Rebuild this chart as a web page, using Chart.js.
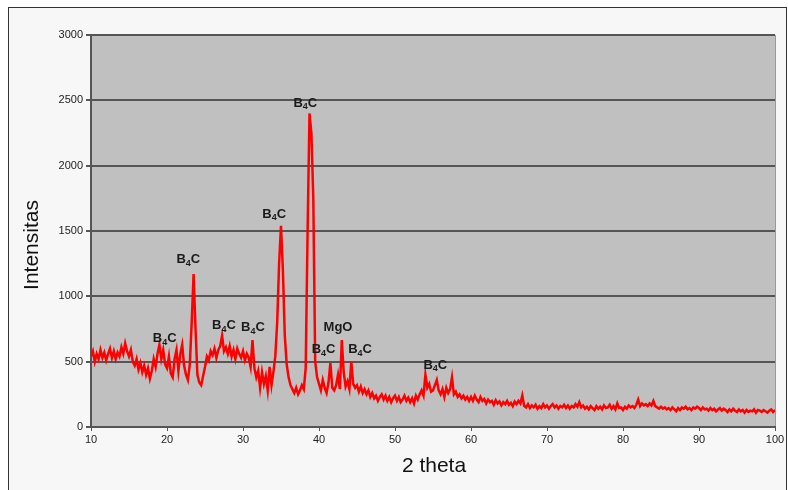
<!DOCTYPE html>
<html>
<head>
<meta charset="utf-8">
<script src="https://cdn.jsdelivr.net/npm/chart.js@4.4.0/dist/chart.umd.min.js"></script>
<style>
  html, body { margin: 0; padding: 0; background: #fff; }
  #frame { position: absolute; left: 8px; top: 7px; width: 777px; height: 500px; border: 1px solid #333; background: #f7f7f7; }
  #wrap { position: absolute; left: 0; top: 0; width: 788px; height: 490px; }
</style>
</head>
<body>
<div id="frame"></div>
<div id="wrap"><canvas id="xrd" width="788" height="490"></canvas></div>
<script>
// ===== XRD pattern (2 theta 10..100, step 0.25) =====
const ANGLE_START = 10;
const ANGLE_STEP  = 0.25;

const intensity = [
  540, 580, 500, 560,   520, 590, 530, 570,   510, 560, 600, 530,   580, 520, 570, 540,   // 10-13
  610, 560, 640, 580,   540, 590, 500, 470,   520, 440, 490, 420,   470, 400, 450, 370,   // 14-17
  430, 520, 460, 560,   630, 520, 590, 480,   450, 540, 410, 380,   520, 590, 430, 560,   // 18-21
  630, 470, 400, 360,   480, 800, 1170, 760,  400, 340, 320, 390,   460, 540, 510, 580,   // 22-25
  550, 600, 530, 590,   620, 700, 580, 610,   560, 620, 540, 590,   520, 600, 560, 530,   // 26-29
  580, 510, 560, 530,   460, 665, 450, 380,   430, 300, 420, 330,   390, 280, 460, 320,   // 30-33
  420, 540, 800, 1250,  1540, 1200, 700, 480, 380, 320, 290, 260,   300, 250, 280, 320,   // 34-37
  290, 450, 1500, 2400, 2250, 1750, 500, 380, 330, 280, 360, 300,   260, 340, 490, 300,   // 38-41
  280, 320, 400, 290,   665, 420, 310, 350,   290, 500, 330, 300,   320, 270, 310, 260,   // 42-45
  290, 250, 280, 230,   260, 220, 240, 200,   230, 250, 210, 240,   200, 230, 190, 220,   // 46-49
  240, 200, 230, 190,   210, 240, 200, 225,   190, 220, 180, 240,   210, 250, 280, 240,   // 50-53
  400, 300, 330, 270,   280, 320, 360, 280,   250, 290, 230, 300,   260, 290, 380, 250,   // 54-57
  270, 230, 250, 220,   240, 210, 230, 200,   230, 200, 240, 210,   190, 230, 200, 215,   // 58-61
  180, 210, 190, 200,   170, 205, 180, 195,   165, 190, 175, 200,   170, 185, 160, 195,   // 62-65
  175, 200, 180, 240,   160, 150, 175, 145,   165, 150, 170, 140,   160, 145, 175, 150,   // 66-69
  165, 140, 160, 175,   150, 165, 140, 160,   150, 170, 145, 165,   140, 160, 150, 175,   // 70-73
  155, 190, 150, 165,   140, 155, 135, 160,   145, 130, 160, 140,   155, 135, 165, 145,   // 74-77
  150, 170, 140, 160,   135, 180, 145, 150,   130, 155, 140, 165,   150, 160, 145, 170,   // 78-81
  210, 160, 180, 165,   175, 160, 180, 165,   200, 160, 150, 140,   155, 140, 150, 135,   // 82-85
  145, 130, 150, 135,   120, 145, 130, 150,   140, 155, 135, 145,   130, 150, 140, 155,   // 86-89
  145, 130, 150, 135,   140, 125, 145, 130,   140, 120, 135, 145,   125, 140, 130, 115,   // 90-93
  135, 120, 140, 125,   115, 135, 120, 130,   110, 130, 115, 125,   120, 135, 110, 130,   // 94-97
  125, 115, 130, 120,   110, 125, 135, 115,   130                                         // 98-100
];

// peak labels: text, anchor angle, anchor intensity
const peakNames   = ['B4C', 'B4C', 'B4C', 'B4C', 'B4C', 'B4C', 'MgO', 'B4C', 'B4C', 'B4C'];
const peakAngles  = [19.7,  22.8,  27.5,  31.3,  34.1,  38.2,  42.5,  40.6,  45.4,  55.3];
const peakHeights = [680,   1280,  780,   765,   1630,  2480,  765,   590,   590,   475];

const yTicks = [0, 500, 1000, 1500, 2000, 2500, 3000];

const TEXT  = '#222';
const GRID  = '#555';
const PLOT  = '#c0c0c0';
const LINE  = '#ff0000';
const NARROW = "'Liberation Sans Narrow', 'Arial Narrow', 'Liberation Sans', Arial, sans-serif";
const SANS   = "'Liberation Sans', Arial, sans-serif";

const points = intensity.map((v, i) => ({ x: ANGLE_START + i * ANGLE_STEP, y: v }));

const plotBg = {
  id: 'plotBg',
  beforeDraw(chart) {
    const { ctx, chartArea: a } = chart;
    ctx.save();
    ctx.fillStyle = PLOT;
    ctx.fillRect(a.left, a.top, a.right - a.left, a.bottom - a.top);
    ctx.restore();
  }
};

// axis titles drawn by hand so they sit where the original has them
const axisTitles = {
  id: 'axisTitles',
  afterDraw(chart) {
    const { ctx, chartArea: a } = chart;
    ctx.save();
    ctx.fillStyle = '#111';
    ctx.font = '21px ' + SANS;
    ctx.textAlign = 'center';
    ctx.textBaseline = 'middle';
    ctx.fillText('2 theta', (a.left + a.right) / 2 + 1, 466);
    ctx.translate(32, 245);
    ctx.rotate(-Math.PI / 2);
    ctx.fillText('Intensitas', 0, 0);
    ctx.restore();
  }
};

function drawLabel(ctx, text, cx, cy) {
  const big = 'bold 13px ' + SANS;
  const small = 'bold 9px ' + SANS;
  let parts = [];
  if (text === 'B4C') parts = [['B', big, 0], ['4', small, 4], ['C', big, 0]];
  else parts = [[text, big, 0]];
  let total = 0;
  parts.forEach(p => { ctx.font = p[1]; total += ctx.measureText(p[0]).width; });
  let x = cx - total / 2;
  parts.forEach(p => {
    ctx.font = p[1];
    ctx.fillText(p[0], x, cy + p[2]);
    x += ctx.measureText(p[0]).width;
  });
}

const peakTags = {
  id: 'peakTags',
  afterDatasetsDraw(chart) {
    const { ctx, scales: { x, y } } = chart;
    ctx.save();
    ctx.fillStyle = '#1a1a1a';
    ctx.textBaseline = 'middle';
    ctx.textAlign = 'left';
    peakNames.forEach((n, i) => {
      drawLabel(ctx, n, x.getPixelForValue(peakAngles[i]), y.getPixelForValue(peakHeights[i]));
    });
    ctx.restore();
  }
};

new Chart(document.getElementById('xrd'), {
  type: 'line',
  data: {
    datasets: [{
      data: points,
      borderColor: LINE,
      borderWidth: 2.5,
      pointRadius: 0,
      tension: 0,
      fill: false
    }]
  },
  options: {
    responsive: false,
    animation: false,
    layout: { padding: { left: 0, top: 35, right: 13, bottom: 0 } },
    plugins: { legend: { display: false }, tooltip: { enabled: false } },
    scales: {
      x: {
        type: 'linear', min: 10, max: 100,
        afterFit: s => { s.height = 63; },
        border: { display: true, color: GRID, width: 2 },
        grid: {
          color: c => (c.tick && c.tick.value === 100 ? '#999' : 'rgba(0,0,0,0)'),
          tickColor: GRID, tickLength: 4, lineWidth: 1
        },
        ticks: { stepSize: 10, color: TEXT, padding: 2, maxRotation: 0, font: { family: NARROW, size: 11 } }
      },
      y: {
        min: 0, max: 3000,
        afterFit: s => { s.width = 91; },
        afterBuildTicks: s => { s.ticks = yTicks.map(v => ({ value: v })); },
        border: { display: true, color: GRID, width: 2 },
        grid: { color: GRID, lineWidth: 2, tickColor: GRID, tickLength: 5 },
        ticks: { color: TEXT, padding: 3, callback: v => v, font: { family: SANS, size: 11 } }
      }
    }
  },
  plugins: [plotBg, peakTags, axisTitles]
});
</script>
</body>
</html>
